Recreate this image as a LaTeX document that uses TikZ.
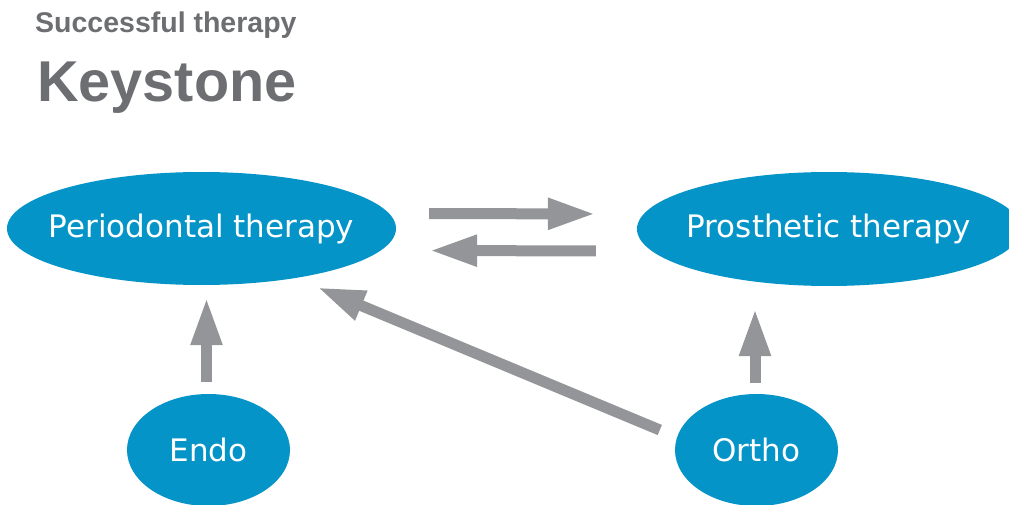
\documentclass[tikz,border=0pt]{standalone}
\usepackage{fontspec}
\usetikzlibrary{shapes.geometric,arrows.meta}
\newfontfamily\headfont{Liberation Sans}
\newfontfamily\bubblefont{DejaVu Sans}
\definecolor{keygray}{HTML}{6D6E71}
\definecolor{arrowgray}{HTML}{939598}
\definecolor{keyblue}{HTML}{0494C8}
\tikzset{
	headline/.style={anchor=base west, inner sep=0pt, text=keygray},
	therapy/.style={ellipse, fill=keyblue, inner sep=0pt, label={[text=white, inner sep=0pt, font=\bubblefont\fontsize{31}{31}\selectfont]center:#1}},
	flow/.style={draw=arrowgray, line width=11pt, -{Triangle[length=48pt,width=29pt]}}
}
\begin{document}
\begin{tikzpicture}[x=1pt, y=-1pt]
		\clip ( 0, 0 ) rectangle ( 1009, 505 );

		% title
		\node [headline, font=\headfont\bfseries\fontsize{28.5}{28.5}\selectfont] (subtitle) at ( 35, 33 ) {Successful therapy};
		\node [headline, font=\headfont\bfseries\fontsize{57.6}{57.6}\selectfont] (title) at ( 37, 102 ) {Keystone};

		% therapies
		\node [therapy=Periodontal therapy, minimum width=389pt, minimum height=113pt] (peri) at ( 201.5, 228.5 ) {};
		\node [therapy=Prosthetic therapy, minimum width=384pt, minimum height=114pt] (prost) at ( 829, 229 ) {};
		\node [therapy=Endo, minimum width=163pt, minimum height=112pt] (endo) at ( 208.5, 450 ) {};
		\node [therapy=Ortho, minimum width=163pt, minimum height=112pt] (ortho) at ( 756.5, 450 ) {};

		% arrows
		\draw [flow, shorten <=33pt, shorten >=41pt] ([yshift=15pt]peri.east) -- ([yshift=15pt]prost.west);
		\draw [flow, shorten <=41pt, shorten >=33pt] ([yshift=-22pt]prost.west) -- ([yshift=-22pt]peri.east);
		\draw [flow, shorten <=12pt, shorten >=12pt] ([xshift=-2pt]endo.north) -- ([xshift=-2pt]endo.north |- peri.south);
		\draw [flow, shorten <=11pt, shorten >=22pt] ([xshift=-1.5pt]ortho.north) -- ([xshift=-1.5pt]ortho.north |- prost.south);
		\draw [flow] ([shift={(-15pt,20pt)}]ortho.west) -- ([shift={(115.5pt,-2pt)}]peri.south);
\end{tikzpicture}
\end{document}
